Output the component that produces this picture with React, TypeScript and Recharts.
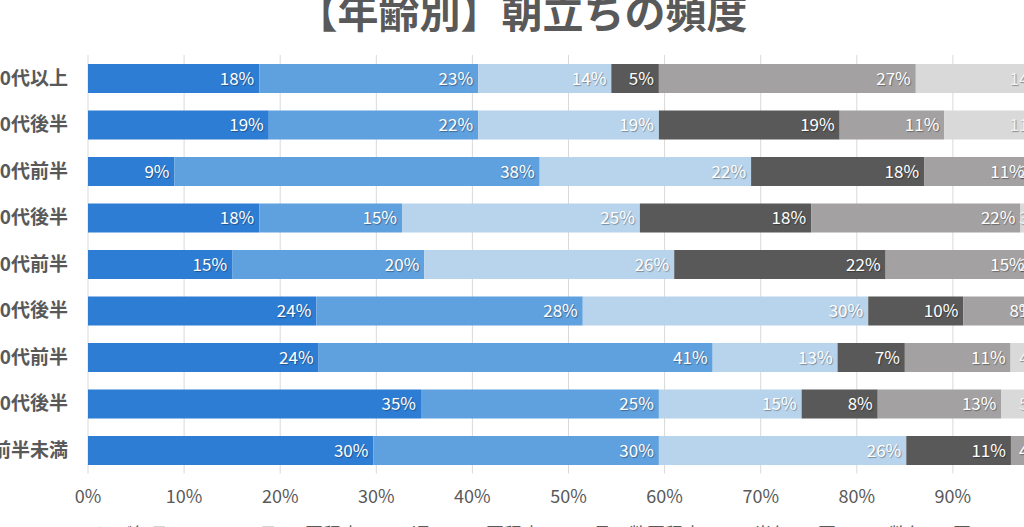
import React from 'react'
import { BarChart, Bar, XAxis, YAxis, CartesianGrid, Legend, LabelList } from 'recharts'

const ages = ['60代以上', '50代後半', '50代前半', '40代後半', '40代前半', '30代後半', '30代前半', '20代後半', '20代前半未満']

const seriesNames = ['ほぼ毎日', '2〜3日に1回程度', '週に1〜2回程度', '月に数回程度', '半年に1回', '数年に1回']

const daily = [18, 19, 9, 18, 15, 24, 24, 35, 30]
const everyFewDays = [23, 22, 38, 15, 20, 28, 41, 25, 30]
const weekly = [14, 19, 22, 25, 26, 30, 13, 15, 26]
const monthly = [5, 19, 18, 18, 22, 10, 7, 8, 11]
const halfYear = [27, 11, 11, 22, 15, 8, 11, 13, 4]
const fewYears = [14, 11, 2, 3, 2, 1, 4, 5, 0]

const xTicks = [0, 0.1, 0.2, 0.3, 0.4, 0.5, 0.6, 0.7, 0.8, 0.9, 1]

const colors = ['#2E7DD5', '#5FA0DE', '#B8D4EC', '#595959', '#A3A1A2', '#D9D9D9']
const keys = ['s1', 's2', 's3', 's4', 's5', 's6']

const data = ages.map((age, i) => ({
  age,
  s1: daily[i],
  s2: everyFewDays[i],
  s3: weekly[i],
  s4: monthly[i],
  s5: halfYear[i],
  s6: fewYears[i],
}))

const FONT = '"Noto Sans CJK JP", "Noto Sans", sans-serif'

// chart is drawn larger than the window and shifted, so it is cropped like the reference
const OFF_X = 100
const OFF_Y = 30

const renderLegend = (props: any) => {
  const items = [...(props.payload || [])].sort(
    (a: any, b: any) => seriesNames.indexOf(a.value) - seriesNames.indexOf(b.value)
  )
  return (
    <div style={{ display: 'flex', justifyContent: 'center', gap: 36, fontFamily: FONT, fontSize: 18, color: '#595959' }}>
      {items.map((p: any) => (
        <div key={p.value} style={{ display: 'flex', alignItems: 'center' }}>
          <span style={{ width: 11, height: 11, background: p.color, display: 'inline-block', marginRight: 6 }} />
          <span>{p.value}</span>
        </div>
      ))}
    </div>
  )
}

export default function App() {
  return (
    <div style={{ position: 'fixed', left: 0, top: 0, width: 1024, height: 527, overflow: 'hidden', background: '#fff' }}>
      <div
        style={{
          position: 'absolute',
          left: 0,
          width: 1044,
          top: -10,
          textAlign: 'center',
          fontFamily: FONT,
          fontSize: 41,
          lineHeight: '41px',
          fontWeight: 'bold',
          color: '#595959',
        }}
      >
        【年齢別】朝立ちの頻度
      </div>
      <div style={{ position: 'absolute', left: -OFF_X, top: -OFF_Y }}>
        <BarChart
          width={1250}
          height={600}
          data={data}
          layout="vertical"
          stackOffset="expand"
          margin={{ top: 85, right: 101, left: 0, bottom: 66.5 }}
        >
          <CartesianGrid horizontal={false} stroke="#D9D9D9" />
          <XAxis
            type="number"
            domain={[0, 1]}
            ticks={xTicks}
            tickFormatter={(v: number) => `${Math.round(v * 100)}%`}
            axisLine={false}
            tickLine={false}
            tickMargin={11}
            height={30}
            tick={{ fontFamily: FONT, fontSize: 18, fill: '#595959' }}
          />
          <YAxis
            type="category"
            dataKey="age"
            width={188}
            axisLine={false}
            tickLine={false}
            tickMargin={14}
            tick={{ fontFamily: FONT, fontSize: 19, fill: '#595959', fontWeight: 'bold' }}
          />
          <Legend
            verticalAlign="middle"
            layout="horizontal"
            content={renderLegend}
            wrapperStyle={{ top: 550, left: 0, width: 1250, height: 24 }}
          />
          {keys.map((k, i) => (
            <Bar key={k} dataKey={k} name={seriesNames[i]} stackId="a" fill={colors[i]} barSize={29} isAnimationActive={false}>
              <LabelList
                dataKey={k}
                position="insideRight"
                formatter={(v: any) => (v ? `${v}%` : '')}
                style={{
                  fontFamily: FONT,
                  fontSize: 17,
                  fill: i === 5 ? '#F2F2F2' : '#FFFFFF',
                  textShadow: '1px 1px 1px rgba(0,0,0,0.35)',
                }}
              />
            </Bar>
          ))}
        </BarChart>
      </div>
    </div>
  )
}
